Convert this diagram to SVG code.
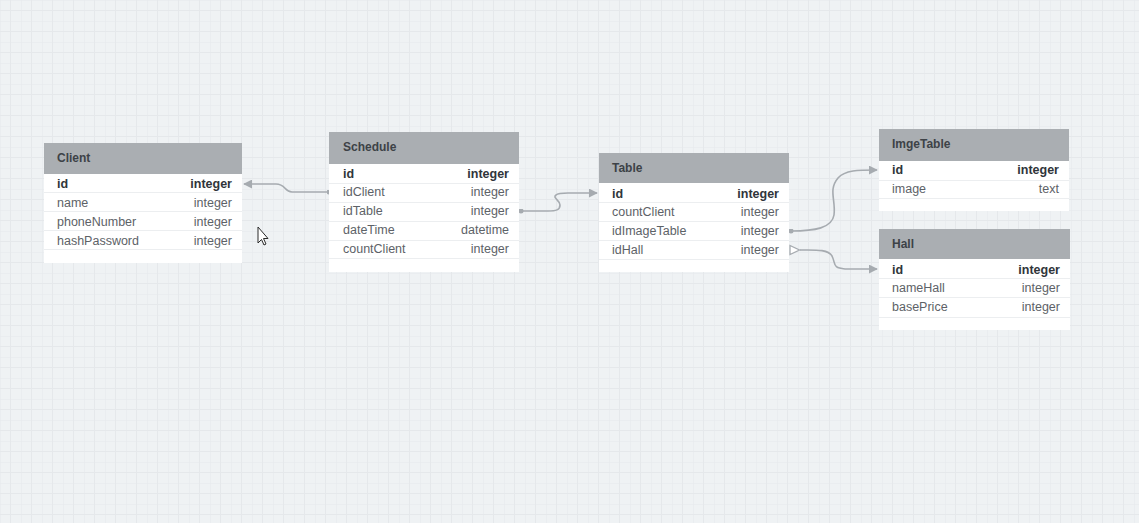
<svg xmlns="http://www.w3.org/2000/svg" width="1139" height="523" viewBox="0 0 1139 523">
<style>
.hdr{fill:#aaaeb2}
.body{fill:#ffffff}
.sep{stroke:#eceef0;stroke-width:1}
.title{font-family:"Liberation Sans",Arial,sans-serif;font-size:12px;font-weight:bold;fill:#3d4247}
.f{font-family:"Liberation Sans",Arial,sans-serif;font-size:12.5px;fill:#5d6267}
.pk{font-family:"Liberation Sans",Arial,sans-serif;font-size:12.5px;font-weight:bold;fill:#30353a}
.t{text-anchor:end}
.conn{fill:none;stroke:#a6abb0;stroke-width:1.6}
</style>
<defs>
<pattern id="grid" width="21" height="21" patternUnits="userSpaceOnUse">
<path d="M0 0V21M10.5 0V21M0 0H21M0 10.5H21" fill="none" stroke="#e5e8eb" stroke-width="1"/>
</pattern>
<marker id="arr" viewBox="0 0 10 10" refX="9" refY="5" markerWidth="9" markerHeight="9" markerUnits="userSpaceOnUse" orient="auto">
<path d="M0 0L10 5L0 10Z" fill="#a6abb0"/>
</marker>
<marker id="dot" viewBox="0 0 6 6" refX="3" refY="3" markerWidth="5" markerHeight="5" markerUnits="userSpaceOnUse" orient="auto">
<circle cx="3" cy="3" r="3" fill="#a6abb0"/>
</marker>
<marker id="hollow" viewBox="0 0 12 10" refX="1" refY="5" markerWidth="12" markerHeight="10" markerUnits="userSpaceOnUse" orient="auto">
<path d="M1 1L10 5L1 9Z" fill="#ffffff" stroke="#a6abb0" stroke-width="1.3"/>
</marker>
</defs>
<rect width="1139" height="523" fill="#eff2f4"/>
<rect width="1139" height="523" fill="url(#grid)"/>

<g id="connectors">
<path class="conn" d="M329 192H292C284 192 286 184 276 184H244" marker-start="url(#dot)" marker-end="url(#arr)"/>
<path class="conn" d="M521 211H548C556 211 560 210 560 205C560 200 552 198 556 195C558 193 562 193 568 193H597" marker-start="url(#dot)" marker-end="url(#arr)"/>
<path class="conn" d="M791 231C815 231 832 228 834 215C836 200 828 190 838 178C845 170 858 170 877 170" marker-start="url(#dot)" marker-end="url(#arr)"/>
<path class="conn" d="M800 250C815 250 828 249 832 256C836 264 832 268 845 269H877" marker-end="url(#arr)"/>
<path d="M790 245.5L799.5 250L790 254.5Z" fill="#ffffff" stroke="#a6abb0" stroke-width="1.3"/>
</g>

<g id="client">
<rect class="body" x="44" y="174" width="198" height="89"/>
<rect class="hdr" x="44" y="143" width="198" height="31"/>
<text class="title" x="57" y="162">Client</text>
<line class="sep" x1="44" y1="192.5" x2="242" y2="192.5"/>
<line class="sep" x1="44" y1="211.5" x2="242" y2="211.5"/>
<line class="sep" x1="44" y1="230.5" x2="242" y2="230.5"/>
<line class="sep" x1="44" y1="249.5" x2="242" y2="249.5"/>
<text class="pk" x="57" y="188">id</text><text class="pk t" x="232" y="188">integer</text>
<text class="f" x="57" y="207">name</text><text class="f t" x="232" y="207">integer</text>
<text class="f" x="57" y="226">phoneNumber</text><text class="f t" x="232" y="226">integer</text>
<text class="f" x="57" y="245">hashPassword</text><text class="f t" x="232" y="245">integer</text>
</g>

<g id="schedule">
<rect class="body" x="329" y="164" width="190" height="108"/>
<rect class="hdr" x="329" y="132" width="190" height="32"/>
<text class="title" x="343" y="151">Schedule</text>
<line class="sep" x1="329" y1="183.5" x2="519" y2="183.5"/>
<line class="sep" x1="329" y1="202.5" x2="519" y2="202.5"/>
<line class="sep" x1="329" y1="221.5" x2="519" y2="221.5"/>
<line class="sep" x1="329" y1="240.5" x2="519" y2="240.5"/>
<line class="sep" x1="329" y1="258.5" x2="519" y2="258.5"/>
<text class="pk" x="343" y="178">id</text><text class="pk t" x="509" y="178">integer</text>
<text class="f" x="343" y="196">idClient</text><text class="f t" x="509" y="196">integer</text>
<text class="f" x="343" y="215">idTable</text><text class="f t" x="509" y="215">integer</text>
<text class="f" x="343" y="234">dateTime</text><text class="f t" x="509" y="234">datetime</text>
<text class="f" x="343" y="253">countClient</text><text class="f t" x="509" y="253">integer</text>
</g>

<g id="table">
<rect class="body" x="599" y="183" width="190" height="89"/>
<rect class="hdr" x="599" y="153" width="190" height="30"/>
<text class="title" x="612" y="172">Table</text>
<line class="sep" x1="599" y1="202.5" x2="789" y2="202.5"/>
<line class="sep" x1="599" y1="221.5" x2="789" y2="221.5"/>
<line class="sep" x1="599" y1="240.5" x2="789" y2="240.5"/>
<line class="sep" x1="599" y1="259.5" x2="789" y2="259.5"/>
<text class="pk" x="612" y="198">id</text><text class="pk t" x="779" y="198">integer</text>
<text class="f" x="612" y="216">countClient</text><text class="f t" x="779" y="216">integer</text>
<text class="f" x="612" y="235">idImageTable</text><text class="f t" x="779" y="235">integer</text>
<text class="f" x="612" y="254">idHall</text><text class="f t" x="779" y="254">integer</text>
</g>

<g id="imgetable">
<rect class="body" x="879" y="161" width="190" height="50"/>
<rect class="hdr" x="879" y="129" width="190" height="32"/>
<text class="title" x="892" y="148">ImgeTable</text>
<line class="sep" x1="879" y1="180.5" x2="1069" y2="180.5"/>
<line class="sep" x1="879" y1="198.5" x2="1069" y2="198.5"/>
<text class="pk" x="892" y="174">id</text><text class="pk t" x="1059" y="174">integer</text>
<text class="f" x="892" y="193">image</text><text class="f t" x="1059" y="193">text</text>
</g>

<g id="hall">
<rect class="body" x="879" y="259" width="191" height="71"/>
<rect class="hdr" x="879" y="229" width="191" height="30"/>
<text class="title" x="892" y="248">Hall</text>
<line class="sep" x1="879" y1="278.5" x2="1070" y2="278.5"/>
<line class="sep" x1="879" y1="297.5" x2="1070" y2="297.5"/>
<line class="sep" x1="879" y1="317.5" x2="1070" y2="317.5"/>
<text class="pk" x="892" y="274">id</text><text class="pk t" x="1060" y="274">integer</text>
<text class="f" x="892" y="292">nameHall</text><text class="f t" x="1060" y="292">integer</text>
<text class="f" x="892" y="311">basePrice</text><text class="f t" x="1060" y="311">integer</text>
</g>

<path d="M258 227V243L261.5 239.5L264 245L266 244L263.5 238.5H268Z" fill="#ffffff" stroke="#2a2a2a" stroke-width="1"/>
</svg>
